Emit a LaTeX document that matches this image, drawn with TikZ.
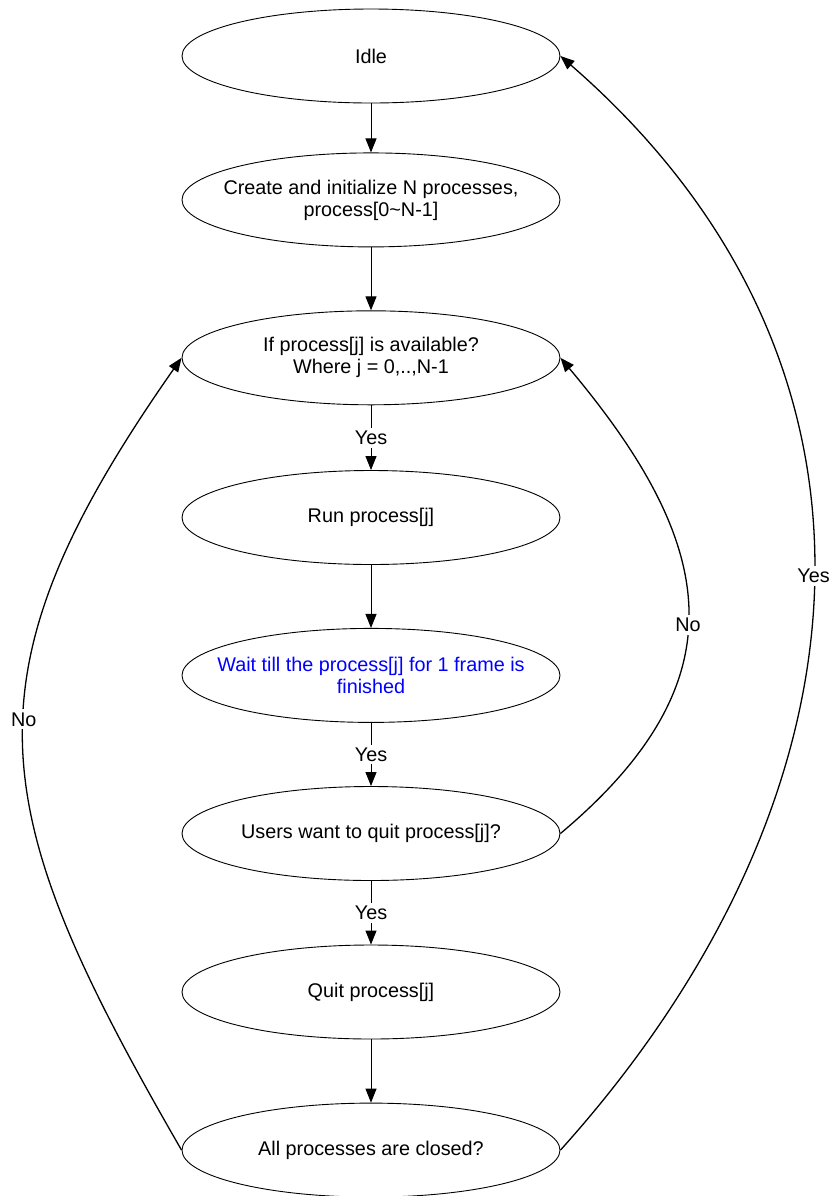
\documentclass[tikz,border=0pt]{standalone}
\usepackage{fontspec}
\setmainfont{Liberation Sans}
\usetikzlibrary{arrows.meta,positioning,shapes.geometric}
\definecolor{waitBlue}{RGB}{0,0,255}

\begin{document}
\begin{tikzpicture}[
  x=0.5pt,y=-0.5pt,
  state/.style={draw,ellipse,line width=0.45pt,minimum width=189pt,minimum height=47pt,inner xsep=-18pt,inner ysep=0pt,align=center,font=\fontsize{9.9}{11}\selectfont},
  arr/.style={-{Triangle[length=7pt,width=5.5pt]},line width=0.5pt},
  loopback/.style={arr,line width=0.65pt},
  lbl/.style={fill=white,inner sep=1.5pt,font=\fontsize{9.9}{11}\selectfont}
]
\useasboundingbox (0,0) rectangle (832,1196);
\node[state] (idle) at (371,56) {Idle};
\node[state,below=24.5pt of idle] (create) {Create and initialize N processes,\\process[0\textasciitilde N-1]};
\node[state,below=31.5pt of create] (avail) {If process[j] is available?\\Where j = 0,..,N-1};
\node[state,below=32.4pt of avail] (run) {Run process[j]};
\node[state,below=31.5pt of run,text=waitBlue] (wait) {Wait till the process[j] for 1 frame is\\finished};
\node[state,below=31.6pt of wait] (quitq) {Users want to quit process[j]?};
\node[state,below=31.8pt of quitq] (quit) {Quit process[j]};
\node[state,below=31.6pt of quit] (done) {All processes are closed?};
\draw[arr] (idle) -- (create);
\draw[arr] (create) -- (avail);
\draw[arr] (avail) -- node[lbl]{Yes} (run);
\draw[arr] (run) -- (wait);
\draw[arr] (wait) -- node[lbl]{Yes} (quitq);
\draw[arr] (quitq) -- node[lbl]{Yes} (quit);
\draw[arr] (quit) -- (done);
% loops back up
\draw[loopback] (done.west) to[out=120,in=235,looseness=1.27] node[lbl,pos=0.54]{No} (avail.west);
\draw[loopback] (quitq.east) to[out=40,in=310,looseness=1.3] node[lbl,pos=0.46]{No} (avail.east);
\draw[loopback] (done.east) to[out=48,in=319,looseness=1.11] node[lbl,pos=0.51]{Yes} (idle.east);
\end{tikzpicture}
\end{document}
